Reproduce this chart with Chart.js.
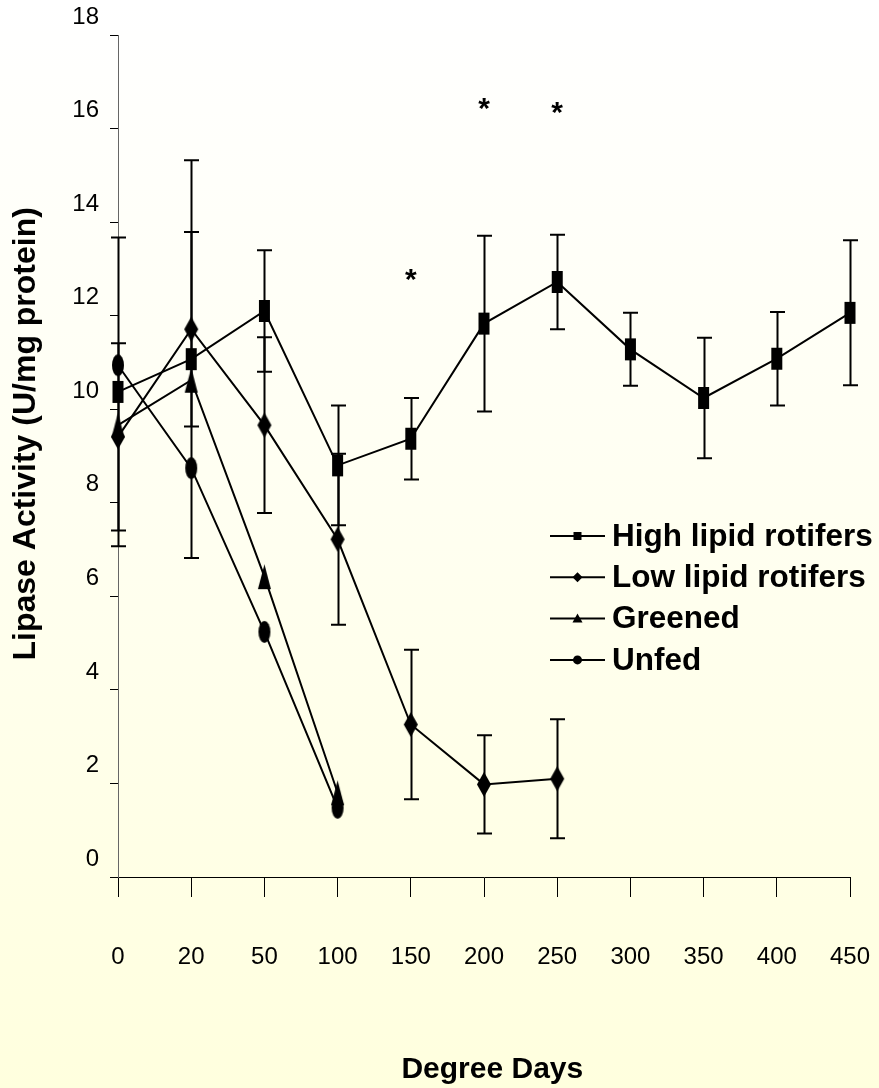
<!DOCTYPE html>
<html><head><meta charset="utf-8">
<script src="https://cdn.jsdelivr.net/npm/chart.js@4/dist/chart.umd.min.js"></script>
<style>
html,body{margin:0;padding:0;width:879px;height:1088px;overflow:hidden;background:linear-gradient(to bottom,#ffffff 0%,#fffff0 50%,#ffffde 100%);}
#wrap{position:relative;width:879px;height:1088px;}
</style></head><body><div id="wrap"><canvas id="c" width="879" height="1088"></canvas></div>
<script>
// ---- data ----
const categories = ['0','20','50','100','150','200','250','300','350','400','450'];
const seriesNames = ['High lipid rotifers','Low lipid rotifers','Greened','Unfed'];
const highLipid    = [10.37, 11.07, 12.1, 8.8, 9.37, 11.83, 12.72, 11.28, 10.24, 11.08, 12.06];
const highLipidErr = [3.3, 4.25, 1.3, 1.28, 0.87, 1.88, 1.01, 0.78, 1.29, 1.0, 1.55];
const lowLipid     = [9.41, 11.71, 9.66, 7.22, 3.26, 1.98, 2.1, null, null, null, null];
const lowLipidErr  = [2.0, 2.08, 1.88, 1.83, 1.6, 1.05, 1.27, null, null, null, null];
const greened      = [9.66, 10.62, 6.42, 1.8, null, null, null, null, null, null, null];
const unfed        = [10.94, 8.74, 5.24, 1.48, null, null, null, null, null, null, null];
const yTickValues  = [0, 2, 4, 6, 8, 10, 12, 14, 16, 18];
const asteriskCats = ['150', '200', '250'];
const asteriskVals = [12.87, 16.52, 16.45];

const FONT = "'Liberation Sans', Arial, Helvetica, sans-serif";

function marker(shape, w, h) {
  const c = document.createElement('canvas');
  c.width = w + 2; c.height = h + 2;
  const g = c.getContext('2d');
  g.fillStyle = '#000';
  const cx = c.width / 2, cy = c.height / 2;
  g.beginPath();
  if (shape === 'rect') { g.rect(1, 1, w, h); }
  else if (shape === 'diamond') { g.moveTo(cx, 1); g.lineTo(cx + w/2, cy); g.lineTo(cx, cy + h/2); g.lineTo(cx - w/2, cy); g.closePath(); }
  else if (shape === 'triangle') { g.moveTo(cx, 1); g.lineTo(cx + w/2, 1 + h); g.lineTo(cx - w/2, 1 + h); g.closePath(); }
  else { g.ellipse(cx, cy, w/2, h/2, 0, 0, Math.PI * 2); }
  g.fill();
  return c;
}
const shapes = ['rect', 'diamond', 'triangle', 'circle'];
const pointImgs = [marker('rect', 11, 22), marker('diamond', 14, 25), marker('triangle', 13, 25), marker('circle', 12, 22)];
const errSets = [highLipidErr, lowLipidErr, null, null];

const errorBars = {
  id: 'errorBars',
  beforeDatasetsDraw(chart) {
    const {ctx, scales: {x, y}} = chart;
    ctx.save();
    ctx.strokeStyle = '#000';
    ctx.lineWidth = 2;
    chart.data.datasets.forEach((ds, di) => {
      const errs = errSets[di];
      if (!errs) return;
      ds.data.forEach((v, i) => {
        if (v == null || errs[i] == null) return;
        const px = Math.round(x.getPixelForValue(i)) + 0.5;
        const yt = y.getPixelForValue(v + errs[i]);
        const yb = y.getPixelForValue(v - errs[i]);
        ctx.beginPath();
        ctx.moveTo(px, yt); ctx.lineTo(px, yb);
        ctx.moveTo(px - 7.5, yt); ctx.lineTo(px + 7.5, yt);
        ctx.moveTo(px - 7.5, yb); ctx.lineTo(px + 7.5, yb);
        ctx.stroke();
      });
    });
    ctx.restore();
  }
};

const annotations = {
  id: 'annotations',
  afterDraw(chart) {
    const {ctx, scales: {x, y}} = chart;
    ctx.save();
    // asterisks
    ctx.font = 'bold 30px ' + FONT;
    ctx.fillStyle = '#000';
    ctx.textAlign = 'center';
    ctx.textBaseline = 'alphabetic';
    const m = ctx.measureText('*');
    const mid = (m.actualBoundingBoxAscent - m.actualBoundingBoxDescent) / 2;
    asteriskCats.forEach((c, i) => {
      const px = x.getPixelForValue(categories.indexOf(c));
      const py = y.getPixelForValue(asteriskVals[i]);
      ctx.fillText('*', px, py + mid);
    });
    // legend
    const lx0 = 550, lx1 = 605, ly0 = 536, step = 41.3;
    ctx.textAlign = 'left';
    ctx.textBaseline = 'middle';
    seriesNames.forEach((name, i) => {
      const ly = ly0 + i * step;
      ctx.strokeStyle = '#000';
      ctx.lineWidth = 2;
      ctx.beginPath(); ctx.moveTo(lx0, ly); ctx.lineTo(lx1, ly); ctx.stroke();
      const cx = (lx0 + lx1) / 2;
      ctx.beginPath();
      const s = shapes[i];
      if (s === 'rect') ctx.rect(cx - 4, ly - 4, 8, 8);
      else if (s === 'diamond') { ctx.moveTo(cx, ly - 5); ctx.lineTo(cx + 5, ly); ctx.lineTo(cx, ly + 5); ctx.lineTo(cx - 5, ly); ctx.closePath(); }
      else if (s === 'triangle') { ctx.moveTo(cx, ly - 5); ctx.lineTo(cx + 5, ly + 4); ctx.lineTo(cx - 5, ly + 4); ctx.closePath(); }
      else ctx.arc(cx, ly, 4.5, 0, Math.PI * 2);
      ctx.fill();
      ctx.font = 'bold 31.5px ' + FONT;
      ctx.fillText(name, 612, ly + 1);
    });
    ctx.restore();
  }
};

const seriesData = [highLipid, lowLipid, greened, unfed];
const datasets = seriesData.map((d, i) => ({
  label: seriesNames[i],
  data: d,
  borderColor: '#000',
  backgroundColor: '#000',
  borderWidth: 2,
  pointStyle: pointImgs[i],
  pointRadius: 6,
  tension: 0,
  fill: false,
  spanGaps: false
}));

new Chart(document.getElementById('c'), {
  type: 'line',
  data: { labels: categories, datasets },
  plugins: [errorBars, annotations],
  options: {
    responsive: false,
    animation: false,
    events: [],
    layout: { padding: { left: 0, right: 29, top: 35, bottom: 0 } },
    plugins: { legend: { display: false }, tooltip: { enabled: false } },
    scales: {
      x: {
        type: 'category',
        offset: false,
        grid: { drawOnChartArea: false, drawTicks: true, tickLength: 20, color: '#000', lineWidth: 1 },
        border: { color: '#000', width: 1 },
        ticks: { color: '#000', font: { size: 24, family: FONT }, padding: 46, maxRotation: 0, autoSkip: false },
        title: { display: true, text: '  Degree Days', color: '#000', font: { size: 30, weight: 'bold', family: FONT, lineHeight: 1.2 }, padding: { top: 0, bottom: 0 } },
        afterFit(s) { s.height = 211; s.paddingLeft = 0; s.paddingRight = 22; }
      },
      y: {
        min: 0, max: 18,
        afterBuildTicks(s) { s.ticks = yTickValues.map(v => ({ value: v })); },
        grid: { drawOnChartArea: false, drawTicks: true, tickLength: 8, color: '#000', lineWidth: 1 },
        border: { color: '#666', width: 1 },
        ticks: { color: '#000', font: { size: 24, family: FONT }, padding: 11, labelOffset: -18 },
        title: { display: true, text: '     Lipase Activity (U/mg protein)', color: '#000', font: { size: 32, weight: 'bold', family: FONT, lineHeight: 1.2 }, padding: { top: 7, bottom: 0 } },
        afterFit(s) { s.width = 118; s.paddingTop = 0; s.paddingBottom = 0; }
      }
    }
  }
});
</script>
</body></html>
